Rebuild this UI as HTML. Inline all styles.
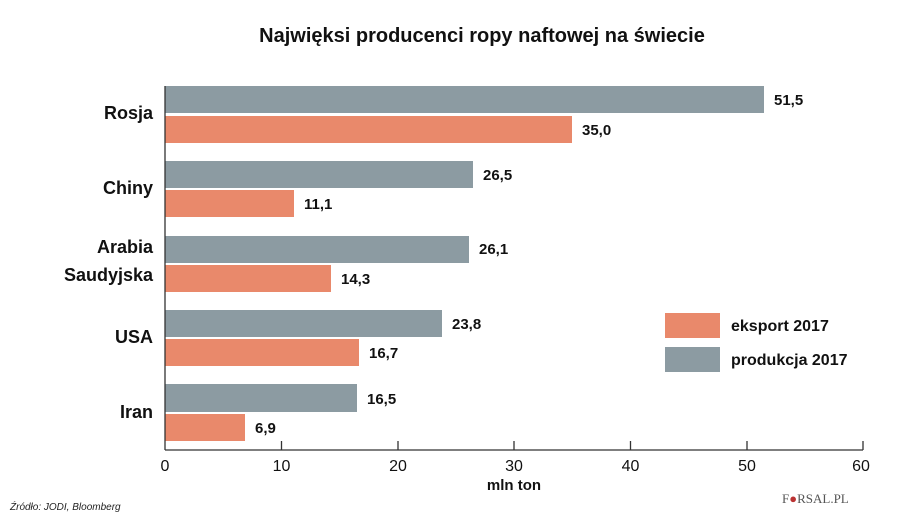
<!DOCTYPE html>
<html><head><meta charset="utf-8"><style>
body{margin:0;background:#fff;}
svg{display:block;font-family:"Liberation Sans",sans-serif;}
</style></head><body>
<svg width="900" height="532" viewBox="0 0 900 532">
<text x="482" y="42" font-size="20" font-weight="bold" text-anchor="middle" fill="#111">Najwięksi producenci ropy naftowej na świecie</text>
<g fill="#8c9ba2">
<rect x="165" y="86" width="599" height="27"/>
<rect x="165" y="161" width="308" height="27"/>
<rect x="165" y="236" width="304" height="27"/>
<rect x="165" y="310" width="277" height="27"/>
<rect x="165" y="384" width="192" height="28"/>
</g>
<g fill="#e9896b">
<rect x="165" y="116" width="407" height="27"/>
<rect x="165" y="190" width="129" height="27"/>
<rect x="165" y="265" width="166" height="27"/>
<rect x="165" y="339" width="194" height="27"/>
<rect x="165" y="414" width="80" height="27"/>
</g>
<g font-size="15" font-weight="bold" fill="#111">
<text x="774" y="105">51,5</text>
<text x="582" y="135">35,0</text>
<text x="483" y="180">26,5</text>
<text x="304" y="209">11,1</text>
<text x="479" y="254">26,1</text>
<text x="341" y="284">14,3</text>
<text x="452" y="329">23,8</text>
<text x="369" y="358">16,7</text>
<text x="367" y="404">16,5</text>
<text x="255" y="433">6,9</text>
</g>
<g font-size="18" font-weight="bold" fill="#111" text-anchor="end">
<text x="153" y="119">Rosja</text>
<text x="153" y="194">Chiny</text>
<text x="153" y="253">Arabia</text>
<text x="153" y="281">Saudyjska</text>
<text x="153" y="343">USA</text>
<text x="153" y="418">Iran</text>
</g>
<g stroke="#333" stroke-width="1.3">
<line x1="165" y1="86" x2="165" y2="450"/>
<line x1="165" y1="450" x2="863" y2="450"/>
<line x1="281.5" y1="441" x2="281.5" y2="450"/>
<line x1="398" y1="441" x2="398" y2="450"/>
<line x1="514" y1="441" x2="514" y2="450"/>
<line x1="630.5" y1="441" x2="630.5" y2="450"/>
<line x1="747" y1="441" x2="747" y2="450"/>
<line x1="863" y1="441" x2="863" y2="450"/>
</g>
<g font-size="16" fill="#111" text-anchor="middle">
<text x="165" y="471">0</text>
<text x="281.5" y="471">10</text>
<text x="398" y="471">20</text>
<text x="514" y="471">30</text>
<text x="630.5" y="471">40</text>
<text x="747" y="471">50</text>
<text x="861" y="471">60</text>
</g>
<text x="514" y="490" font-size="15" font-weight="bold" text-anchor="middle" fill="#111">mln ton</text>
<rect x="665" y="313" width="55" height="25" fill="#e9896b"/>
<rect x="665" y="347" width="55" height="25" fill="#8c9ba2"/>
<text x="731" y="331" font-size="16" font-weight="bold" fill="#111">eksport 2017</text>
<text x="731" y="365" font-size="16" font-weight="bold" fill="#111">produkcja 2017</text>
<text x="10" y="510" font-size="10" font-style="italic" fill="#222">Źródło: JODI, Bloomberg</text>
<text x="782" y="503" font-size="13" font-family="Liberation Serif,serif" fill="#555">F<tspan fill="#b33">●</tspan>RSAL.PL</text>
</svg>
</body></html>
